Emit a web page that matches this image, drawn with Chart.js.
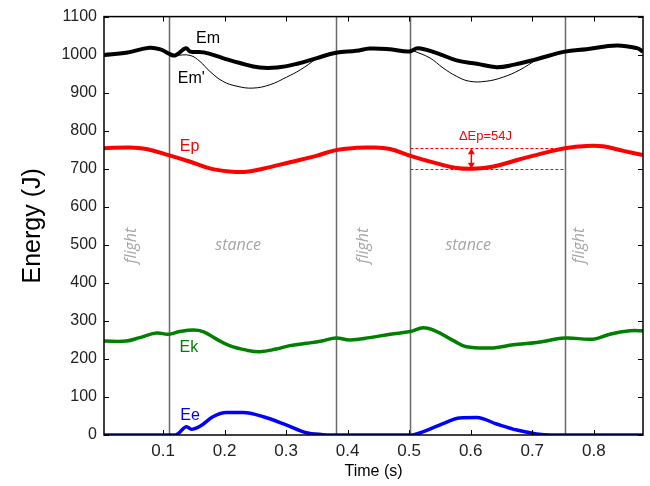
<!DOCTYPE html>
<html>
<head>
<meta charset="utf-8">
<script src="https://cdn.jsdelivr.net/npm/chart.js@4/dist/chart.umd.min.js"></script>
<style>
  html, body { margin: 0; padding: 0; background: #fff; }
  #wrap { width: 650px; height: 486px; }
</style>
</head>
<body>
<div id="wrap"><canvas id="energyChart" width="650" height="486"></canvas></div>
<script>
// Energy components over two gait cycles (time in s, energy in J)
const emTime = [0.004, 0.04, 0.078, 0.097, 0.11, 0.12, 0.137, 0.144, 0.166, 0.197, 0.225, 0.257, 0.285, 0.318, 0.35, 0.381, 0.414, 0.436, 0.469, 0.5, 0.514, 0.545, 0.577, 0.61, 0.642, 0.669, 0.707, 0.753, 0.788, 0.837, 0.87, 0.88];
const em = [999, 1005, 1018, 1013, 1002, 998, 1017, 1008, 1006, 991, 978, 966, 966, 976, 991, 1005, 1010, 1016, 1014, 1008, 1017, 1004, 985, 976, 967, 973, 988, 1008, 1014, 1024, 1017, 1008];

// Em' only differs from Em during stance; null splits the two stance phases
const emPrimeTime = [0.12, 0.144, 0.16, 0.176, 0.197, 0.22, 0.246, 0.274, 0.301, 0.323, 0.35, 0.5, 0.507, 0.534, 0.555, 0.577, 0.598, 0.625, 0.653, 0.68, 0.707];
const emPrime = [998, 998, 982, 956, 930, 917, 912, 921, 941, 960, 990, null, 1010, 991, 965, 943, 930, 930, 941, 960, 987];

const epTime = [0.004, 0.046, 0.073, 0.109, 0.143, 0.176, 0.208, 0.236, 0.262, 0.306, 0.349, 0.381, 0.414, 0.436, 0.469, 0.502, 0.545, 0.577, 0.604, 0.637, 0.68, 0.723, 0.753, 0.788, 0.815, 0.848, 0.88];
const ep = [754, 756, 752, 736, 719, 701, 693, 692, 700, 717, 734, 749, 755, 756, 752, 734, 714, 702, 700, 706, 725, 743, 754, 760, 759, 747, 736];

const ekTime = [0.004, 0.04, 0.062, 0.089, 0.109, 0.127, 0.149, 0.165, 0.187, 0.208, 0.236, 0.257, 0.284, 0.306, 0.333, 0.36, 0.381, 0.404, 0.436, 0.469, 0.502, 0.523, 0.545, 0.572, 0.593, 0.637, 0.669, 0.707, 0.753, 0.799, 0.826, 0.859, 0.88];
const ek = [247, 247, 256, 268, 265, 272, 276, 272, 252, 235, 223, 219, 226, 235, 241, 248, 255, 250, 256, 265, 272, 282, 272, 248, 232, 229, 237, 243, 255, 252, 265, 274, 274];

const eeTime = [0.004, 0.12, 0.124, 0.138, 0.146, 0.16, 0.181, 0.203, 0.23, 0.263, 0.301, 0.333, 0.36, 0.37, 0.502, 0.523, 0.555, 0.582, 0.61, 0.642, 0.675, 0.707, 0.73, 0.88];
const ee = [0, 0, 3, 22, 15, 23, 48, 59, 59, 48, 26, 6, 1, 0, 0, 9, 30, 45, 46, 29, 13, 3, 0, 0];

// Touchdown / take-off instants and phase names
const phaseBounds = [0.1096, 0.381, 0.502, 0.753];
const phaseNames = ['flight', 'stance', 'flight', 'stance', 'flight'];
const phaseLabelTime = [0.049, 0.222, 0.425, 0.596, 0.777];
const phaseLabelEnergy = 498;

// Ep swing during the second stance
const epHigh = 754;
const epDelta = 54;
const epLow = epHigh - epDelta;
const deltaArrowTime = 0.601;
const deltaLabelAt = [0.624, 785];

const timeTicks = [0.1, 0.2, 0.3, 0.4, 0.5, 0.6, 0.7, 0.8];
const energyTicks = [0, 100, 200, 300, 400, 500, 600, 700, 800, 900, 1000, 1100];

const seriesLabels = [
    { text: 'Em', t: 0.173, e: 1043, color: '#000000' },
    { text: "Em'", t: 0.146, e: 938, color: '#000000' },
    { text: 'Ep', t: 0.143, e: 759, color: '#ff0000' },
    { text: 'Ek', t: 0.142, e: 230, color: '#008000' },
    { text: 'Ee', t: 0.144, e: 50, color: '#0000ff' }
];

const toPoints = (ts, vs) => ts.map((t, i) => ({ x: t, y: vs[i] }));

function series(data, color, width, monotone) {
    const ds = {
        data: data,
        borderColor: color,
        borderWidth: width,
        pointRadius: 0,
        fill: false,
        spanGaps: false,
        tension: 0.4
    };
    if (monotone) ds.cubicInterpolationMode = 'monotone';
    return ds;
}

// Phase lines, phase names, annotations, inward ticks and frame
const decorations = {
    id: 'decorations',
    beforeDatasetsDraw(chart) {
        const { ctx, chartArea: a, scales: { x, y } } = chart;
        ctx.save();
        ctx.strokeStyle = '#6a6a6a';
        ctx.lineWidth = 1.5;
        phaseBounds.forEach(t => {
            const px = Math.round(x.getPixelForValue(t)) + 0.5;
            ctx.beginPath();
            ctx.moveTo(px, a.top);
            ctx.lineTo(px, a.bottom);
            ctx.stroke();
        });

        ctx.fillStyle = '#a6a6a6';
        ctx.font = 'italic 16px "Open Sans"';
        ctx.textAlign = 'center';
        ctx.textBaseline = 'middle';
        const py = y.getPixelForValue(phaseLabelEnergy);
        phaseNames.forEach((name, i) => {
            const px = x.getPixelForValue(phaseLabelTime[i]);
            ctx.save();
            ctx.translate(px, py);
            if (name === 'flight') ctx.rotate(-Math.PI / 2);
            ctx.fillText(name, 0, 0);
            ctx.restore();
        });
        ctx.restore();
    },
    afterDatasetsDraw(chart) {
        const { ctx, chartArea: a, scales: { x, y } } = chart;
        ctx.save();

        // curve names
        ctx.font = '16px "Liberation Sans", Arial, sans-serif';
        ctx.textAlign = 'center';
        ctx.textBaseline = 'middle';
        seriesLabels.forEach(l => {
            ctx.fillStyle = l.color;
            ctx.fillText(l.text, x.getPixelForValue(l.t), y.getPixelForValue(l.e));
        });

        // ΔEp: dashed extremes plus a double arrow
        const x0 = x.getPixelForValue(phaseBounds[2]);
        const x1 = x.getPixelForValue(phaseBounds[3]);
        const yHi = y.getPixelForValue(epHigh);
        const yLo = y.getPixelForValue(epLow);
        ctx.strokeStyle = '#ff0000';
        ctx.fillStyle = '#ff0000';
        ctx.lineWidth = 1;
        ctx.setLineDash([3, 2]);
        [yHi, yLo].forEach(v => {
            ctx.beginPath();
            ctx.moveTo(x0, Math.round(v) + 0.5);
            ctx.lineTo(x1, Math.round(v) + 0.5);
            ctx.stroke();
        });
        ctx.setLineDash([]);
        const ax = x.getPixelForValue(deltaArrowTime);
        ctx.lineWidth = 1.5;
        ctx.beginPath();
        ctx.moveTo(ax, yHi + 4);
        ctx.lineTo(ax, yLo - 4);
        ctx.stroke();
        [[yHi, 1], [yLo, -1]].forEach(([v, dir]) => {
            ctx.beginPath();
            ctx.moveTo(ax, v);
            ctx.lineTo(ax - 3.5, v + dir * 6);
            ctx.lineTo(ax + 3.5, v + dir * 6);
            ctx.closePath();
            ctx.fill();
        });
        ctx.font = '13px "Liberation Sans", Arial, sans-serif';
        ctx.fillText('\u0394Ep=' + epDelta + 'J', x.getPixelForValue(deltaLabelAt[0]), y.getPixelForValue(deltaLabelAt[1]));

        // inward tick marks on all four sides
        ctx.strokeStyle = '#000';
        ctx.lineWidth = 1;
        const len = 5;
        energyTicks.forEach(v => {
            const py = Math.round(y.getPixelForValue(v)) + 0.5;
            ctx.beginPath();
            ctx.moveTo(a.left, py); ctx.lineTo(a.left + len, py);
            ctx.moveTo(a.right, py); ctx.lineTo(a.right - len, py);
            ctx.stroke();
        });
        timeTicks.forEach(t => {
            const px = Math.round(x.getPixelForValue(t)) + 0.5;
            ctx.beginPath();
            ctx.moveTo(px, a.bottom); ctx.lineTo(px, a.bottom - len);
            ctx.moveTo(px, a.top); ctx.lineTo(px, a.top + len);
            ctx.stroke();
        });

        ctx.lineWidth = 1.5;
        ctx.strokeRect(a.left, a.top, a.right - a.left, a.bottom - a.top);
        ctx.restore();
    }
};

const ctx = document.getElementById('energyChart').getContext('2d');
new Chart(ctx, {
    type: 'line',
    data: {
        datasets: [
            series(toPoints(emTime, em), '#000000', 4),
            series(toPoints(epTime, ep), '#ff0000', 4),
            series(toPoints(ekTime, ek), '#008000', 3.5),
            series(toPoints(eeTime, ee), '#0000ff', 3.5, true),
            series(toPoints(emPrimeTime, emPrime), '#000000', 1)
        ]
    },
    options: {
        responsive: false,
        animation: false,
        events: [],
        layout: { padding: { left: 0, right: 7, top: 13, bottom: 0 } },
        plugins: {
            legend: { display: false },
            tooltip: { enabled: false }
        },
        scales: {
            x: {
                type: 'linear',
                min: 0.004,
                max: 0.88,
                afterBuildTicks: s => { s.ticks = timeTicks.map(v => ({ value: v })); },
                afterFit: s => { s.height = 51; },
                grid: { display: false, drawTicks: false },
                border: { display: false },
                ticks: {
                    padding: 6,
                    color: '#222',
                    font: { family: '"Liberation Sans", Arial, sans-serif', size: 17 },
                    callback: v => v.toFixed(1)
                },
                title: {
                    display: true,
                    text: 'Time (s)',
                    color: '#000',
                    padding: { top: 0, bottom: 5 },
                    font: { family: '"Liberation Sans", Arial, sans-serif', size: 16 }
                }
            },
            y: {
                min: 0,
                max: 1100,
                afterBuildTicks: s => { s.ticks = energyTicks.map(v => ({ value: v })); },
                afterFit: s => { s.width = 104; },
                grid: { display: false, drawTicks: false },
                border: { display: false },
                ticks: {
                    padding: 7,
                    color: '#222',
                    font: { family: '"Liberation Sans", Arial, sans-serif', size: 16 },
                    callback: v => String(v)
                },
                title: {
                    display: true,
                    text: 'Energy (J)',
                    color: '#000',
                    padding: { top: 18, bottom: 0 },
                    font: { family: '"Liberation Sans", Arial, sans-serif', size: 25 }
                }
            }
        }
    },
    plugins: [decorations]
});
</script>
</body>
</html>
